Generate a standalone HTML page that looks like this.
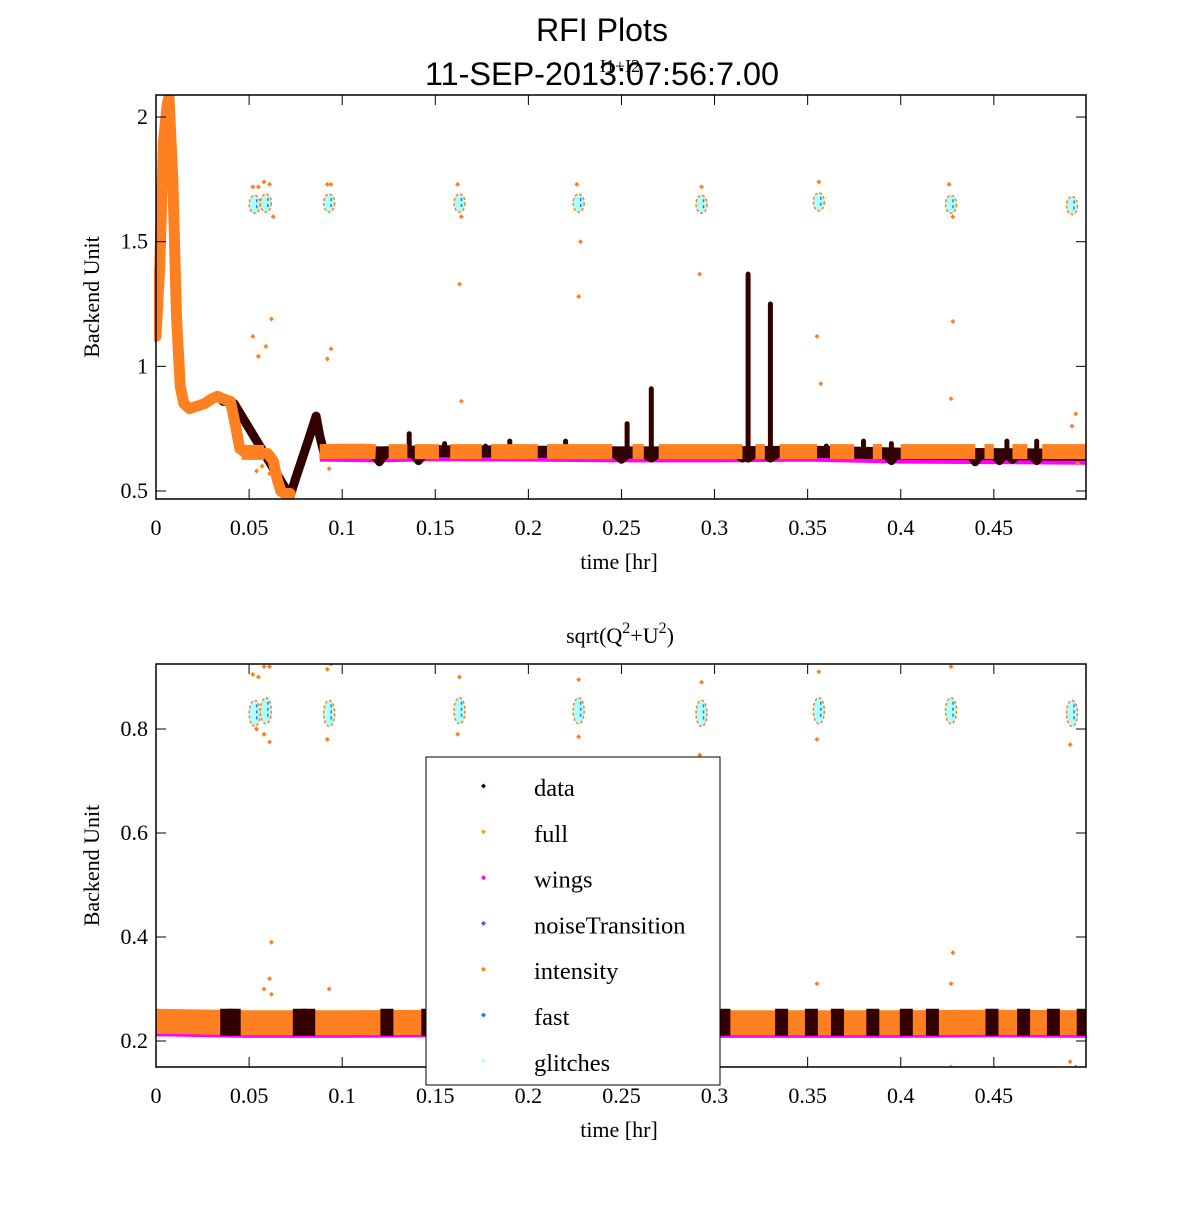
<!DOCTYPE html>
<html><head><meta charset="utf-8"><style>
body{margin:0;background:#fff}
svg text{font-family:"Liberation Serif",serif}
</style></head><body>
<svg id="c" width="1200" height="1200" xmlns="http://www.w3.org/2000/svg">
<defs>
<clipPath id="cp1"><rect x="154" y="95" width="932" height="404"/></clipPath>
<clipPath id="cp2"><rect x="154" y="664" width="932" height="403"/></clipPath>
</defs>
<rect width="1200" height="1200" fill="#fff"/>
<text x="536" y="41" font-size="32" textLength="132" lengthAdjust="spacingAndGlyphs" style="font-family:'Liberation Sans',sans-serif">RFI Plots</text>
<text x="425" y="85" font-size="32" textLength="354" lengthAdjust="spacingAndGlyphs" style="font-family:'Liberation Sans',sans-serif">11-SEP-2013:07:56:7.00</text>
<text x="620" y="72" text-anchor="middle" font-size="18">I1+I2</text>
<text x="620" y="643" text-anchor="middle" font-size="22">sqrt(Q<tspan dy="-10" font-size="16">2</tspan><tspan dy="10">+U</tspan><tspan dy="-10" font-size="16">2</tspan><tspan dy="10">)</tspan></text>
<g id="g1"><g id="d1" clip-path="url(#cp1)"></g></g>
<g id="g2"><g id="d2" clip-path="url(#cp2)"></g></g>
</svg>
<script>
// ---- data arrays ----
const xTicks=[0,0.05,0.1,0.15,0.2,0.25,0.3,0.35,0.4,0.45];
const xTickLabels=["0","0.05","0.1","0.15","0.2","0.25","0.3","0.35","0.4","0.45"];
const topYTicks=[0.5,1,1.5,2];
const topYLabels=["0.5","1","1.5","2"];
const botYTicks=[0.2,0.4,0.6,0.8];
const botYLabels=["0.2","0.4","0.6","0.8"];
const topIntT=[0,0.002,0.004,0.006,0.007,0.009,0.011,0.013,0.015,0.018,0.022,0.026,0.030,0.033,0.036,0.040,0.043,0.045,0.048,0.055,0.060,0.063,0.065,0.067,0.069,0.072];
const topIntV=[1.12,1.4,1.9,2.05,2.08,1.75,1.2,0.92,0.85,0.83,0.84,0.85,0.87,0.88,0.87,0.86,0.75,0.67,0.655,0.655,0.65,0.62,0.55,0.5,0.49,0.49];
const topDataT=[0.036,0.040,0.042,0.072,0.075,0.079,0.083,0.086,0.088,0.090];
const topDataV=[0.86,0.86,0.85,0.48,0.55,0.64,0.73,0.80,0.72,0.66];
const topBaseT=[0.088,0.12,0.15,0.2,0.25,0.3,0.35,0.4,0.45,0.5];
const topBaseV=[0.658,0.655,0.66,0.658,0.655,0.655,0.658,0.65,0.648,0.645];
const topSpikeT=[0.12,0.136,0.155,0.177,0.19,0.22,0.253,0.266,0.318,0.330,0.36,0.38,0.395,0.41,0.45,0.457,0.473,0.48];
const topSpikeV=[0.66,0.73,0.69,0.68,0.7,0.7,0.77,0.91,1.37,1.25,0.68,0.7,0.69,0.67,0.66,0.7,0.7,0.66];
const topDipT=[0.12,0.141,0.25,0.266,0.318,0.33,0.315,0.395,0.44,0.453,0.46,0.473];
const topDipV=[0.615,0.62,0.625,0.63,0.63,0.63,0.63,0.62,0.615,0.62,0.625,0.62];
const clusterT=[0.053,0.059,0.093,0.163,0.227,0.293,0.356,0.427,0.492];
const topClusterV=[1.65,1.655,1.655,1.655,1.655,1.65,1.66,1.65,1.645];
const botClusterV=[0.83,0.835,0.83,0.835,0.835,0.83,0.835,0.835,0.83];
const topOutT=[0.052,0.055,0.058,0.061,0.062,0.052,0.059,0.055,0.063,0.092,0.094,0.092,0.094,0.162,0.164,0.163,0.226,0.228,0.227,0.293,0.292,0.356,0.355,0.357,0.426,0.428,0.427,0.428,0.494,0.492,0.495,0.164,0.054,0.057,0.061,0.093];
const topOutV=[1.72,1.72,1.74,1.73,1.19,1.12,1.08,1.04,1.6,1.73,1.73,1.03,1.07,1.73,1.6,1.33,1.73,1.5,1.28,1.72,1.37,1.74,1.12,0.93,1.73,1.18,0.87,1.6,0.81,0.76,0.61,0.86,0.58,0.6,0.57,0.59];
const botOutT=[0.052,0.055,0.058,0.061,0.062,0.054,0.058,0.061,0.092,0.094,0.092,0.163,0.162,0.227,0.227,0.293,0.292,0.356,0.355,0.427,0.428,0.427,0.491,0.491,0.494,0.058,0.061,0.062,0.093,0.355,0.427];
const botOutV=[0.905,0.9,0.92,0.92,0.39,0.8,0.79,0.775,0.915,0.925,0.78,0.9,0.79,0.895,0.785,0.89,0.75,0.91,0.78,0.92,0.37,0.31,0.77,0.16,0.15,0.3,0.32,0.29,0.3,0.31,0.15];
const botBaseT=[0,0.05,0.1,0.15,0.2,0.25,0.3,0.35,0.4,0.45,0.5];
const botBaseV=[0.238,0.235,0.235,0.236,0.235,0.236,0.235,0.235,0.235,0.236,0.235];
const botDarkT=[0.038,0.042,0.077,0.082,0.124,0.146,0.18,0.2,0.238,0.254,0.287,0.305,0.336,0.352,0.366,0.385,0.403,0.417,0.449,0.466,0.482,0.498];
const legendNames=["data","full","wings","noiseTransition","intensity","fast","glitches"];
const legendColors=["#330000","#ffa500","#ff00ff","#7f3fff","#ff8020","#1f7fdf","#b0ffff"];

const NS="http://www.w3.org/2000/svg";
function mk(tag,attrs,parent){const e=document.createElementNS(NS,tag);for(const k in attrs)e.setAttribute(k,attrs[k]);parent.appendChild(e);return e;}
const PL=156,PR=1086;
function xs(t){return PL+(t/0.4995)*(PR-PL);}
const pTop={g:document.getElementById('g1'),d:document.getElementById('d1'),T:95,B:499,y:v=>491-(v-0.5)*249.3};
const pBot={g:document.getElementById('g2'),d:document.getElementById('d2'),T:664,B:1067,y:v=>1041-(v-0.2)*520};
function poly(p,ts,vs,color,w,name,cap){
  let d=ts.map((t,i)=>(i?'L':'M')+xs(t).toFixed(1)+','+p.y(vs[i]).toFixed(1)).join('');
  const e=mk('path',{d:d,fill:'none',stroke:color,'stroke-width':w,'stroke-linejoin':'round','stroke-linecap':cap||'butt'},p.d);
  
  
}
function dot(p,t,v,color,name,r){
  const x=xs(t),y=p.y(v);r=r||2.5;
  const e=mk('path',{d:`M${x-r},${y}L${x},${y-r}L${x+r},${y}L${x},${y+r}Z`,fill:color},p.d);
  
  
}
function frame(p,yt,yl){
  const g=p.g;
  yt.forEach((v,i)=>{const y=p.y(v);
    mk('line',{x1:PL,y1:y,x2:PL+10,y2:y,stroke:'#000'},g);
    mk('line',{x1:PR,y1:y,x2:PR-10,y2:y,stroke:'#000'},g);
    const t=mk('text',{x:PL-8,y:y+7,'text-anchor':'end','font-size':22},g);t.textContent=yl[i];
    
    
  });
  xTicks.forEach((v,i)=>{const x=xs(v);
    mk('line',{x1:x,y1:p.B,x2:x,y2:p.B-10,stroke:'#000'},g);
    mk('line',{x1:x,y1:p.T,x2:x,y2:p.T+10,stroke:'#000'},g);
    const t=mk('text',{x:x,y:p.B+36,'text-anchor':'middle','font-size':22},g);t.textContent=xTickLabels[i];
    
    
  });
  const r=mk('rect',{x:PL,y:p.T,width:PR-PL,height:p.B-p.T,fill:'none',stroke:'#000','stroke-width':1.5},g);
  
  
  const xt=mk('text',{x:619,y:p.B+70,'text-anchor':'middle','font-size':22},g);xt.textContent='time [hr]';
  
  
  const cy=(p.T+p.B)/2;
  const yt2=mk('text',{x:99,y:cy,'text-anchor':'middle','font-size':22,transform:`rotate(-90 99 ${cy})`},g);yt2.textContent='Backend Unit';
  
  
}
function clusters(p,vals,h){
  clusterT.forEach((t,i)=>{const x=xs(t),y=p.y(vals[i]);
    const e=mk('ellipse',{cx:x,cy:y,rx:5.5,ry:h,fill:'#b0ffff',stroke:'#ff8020','stroke-width':1.5,'stroke-dasharray':'3 2'},p.d);
    
    
    const f=mk('line',{x1:x+2,y1:y-h+4,x2:x+2,y2:y+h-4,stroke:'#1f7fdf','stroke-width':1.5,'stroke-dasharray':'3 3'},p.d);
    
    
  });
}
poly(pTop,topBaseT,topBaseV.map(v=>v-0.012),'#ff00ff',14,'wings-band');
poly(pTop,topBaseT,topBaseV,'#330000',12,'data-band');
topSpikeT.forEach((t,i)=>poly(pTop,[t,t],[0.655,topSpikeV[i]],'#330000',5,'data-spike','round'));
topDipT.forEach((t,i)=>poly(pTop,[t-0.003,t,t+0.003],[0.645,topDipV[i],0.645],'#330000',8,'data-dip'));
poly(pTop,topDataT,topDataV,'#330000',9,'data-trace','round');
poly(pTop,topIntT,topIntV,'#ff8020',11,'intensity-trace','round');
poly(pTop,[0.088,0.11,0.118],[0.658,0.66,0.658],'#ff8020',15,'intensity-band');
[[0.125,0.135],[0.139,0.152],[0.158,0.175],[0.18,0.205],[0.21,0.245],[0.256,0.262],[0.27,0.315],[0.322,0.327],[0.335,0.355],[0.362,0.375],[0.385,0.39],[0.40,0.44],[0.445,0.45],[0.46,0.468],[0.476,0.4995]].forEach(s=>poly(pTop,s,[0.658,0.658],'#ff8020',15,'intensity-band'));
poly(pTop,[0.046,0.058],[0.655,0.655],'#ff8020',15,'intensity-band');
clusters(pTop,topClusterV,9);
topOutT.forEach((t,i)=>dot(pTop,t,topOutV[i],'#ff8020','intensity-outlier'));
frame(pTop,topYTicks,topYLabels);
poly(pBot,botBaseT,botBaseV.map(v=>v-0.003),'#ff00ff',27,'wings-band');
poly(pBot,botBaseT,botBaseV,'#ff8020',25,'intensity-band');
botDarkT.forEach(t=>poly(pBot,[t-0.0035,t+0.0035],[0.236,0.236],'#330000',27,'data-block'));
clusters(pBot,botClusterV,13);
botOutT.forEach((t,i)=>dot(pBot,t,botOutV[i],'#ff8020','intensity-outlier'));
frame(pBot,botYTicks,botYLabels);
const lg=mk('g',{},document.getElementById('c'));


const lr=mk('rect',{x:426,y:757,width:294,height:328,fill:'#fff',stroke:'#000','stroke-width':1},lg);


legendNames.forEach((n,i)=>{const y=788+i*45.8;
  const m=mk('path',{d:`M481,${y-2}l2.5,-2.5l2.5,2.5l-2.5,2.5z`,fill:legendColors[i]},lg);
  
  
  const t=mk('text',{x:534,y:y+8,'font-size':24.5},lg);t.textContent=n;
  
  
});
</script>
</body></html>
